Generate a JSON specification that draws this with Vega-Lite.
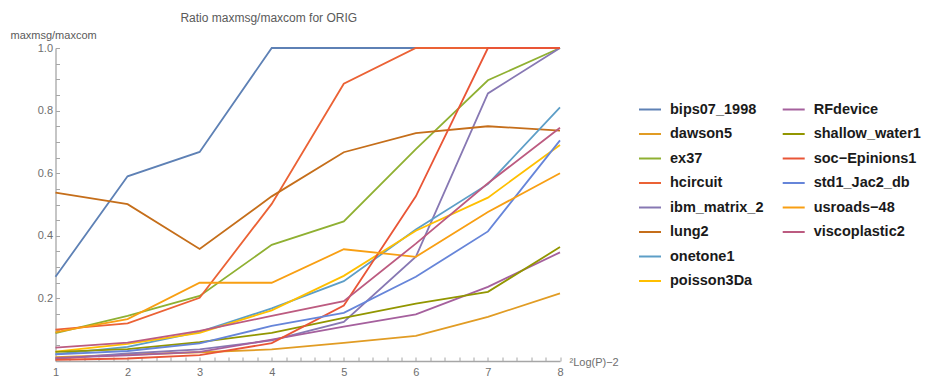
{
  "$schema": "https://vega.github.io/schema/vega-lite/v6.json",
  "autosize": "none",
  "width": 504.5,
  "height": 313,
  "padding": {"left": 55.5, "top": 48, "right": 365, "bottom": 19},
  "background": "white",
  "title": {"text": "Ratio maxmsg/maxcom for ORIG", "fontSize": 12, "font": "Liberation Sans", "fontWeight": "normal", "color": "#5a5a5a", "anchor": "middle", "dx": -39, "offset": 4},
  "config": {"view": {"stroke": null}},
  "datasets": {
    "all": [
      {"s": "bips07_1998", "p": 1, "r": 0.269}, {"s": "bips07_1998", "p": 2, "r": 0.59}, {"s": "bips07_1998", "p": 3, "r": 0.668}, {"s": "bips07_1998", "p": 4, "r": 1.0}, {"s": "bips07_1998", "p": 5, "r": 1.0}, {"s": "bips07_1998", "p": 6, "r": 1.0}, {"s": "bips07_1998", "p": 7, "r": 1.0}, {"s": "bips07_1998", "p": 8, "r": 1.0},
      {"s": "dawson5", "p": 1, "r": 0.012}, {"s": "dawson5", "p": 2, "r": 0.02}, {"s": "dawson5", "p": 3, "r": 0.028}, {"s": "dawson5", "p": 4, "r": 0.037}, {"s": "dawson5", "p": 5, "r": 0.058}, {"s": "dawson5", "p": 6, "r": 0.08}, {"s": "dawson5", "p": 7, "r": 0.141}, {"s": "dawson5", "p": 8, "r": 0.216},
      {"s": "ex37", "p": 1, "r": 0.089}, {"s": "ex37", "p": 2, "r": 0.144}, {"s": "ex37", "p": 3, "r": 0.208}, {"s": "ex37", "p": 4, "r": 0.371}, {"s": "ex37", "p": 5, "r": 0.446}, {"s": "ex37", "p": 6, "r": 0.677}, {"s": "ex37", "p": 7, "r": 0.897}, {"s": "ex37", "p": 8, "r": 1.0},
      {"s": "hcircuit", "p": 1, "r": 0.1}, {"s": "hcircuit", "p": 2, "r": 0.12}, {"s": "hcircuit", "p": 3, "r": 0.202}, {"s": "hcircuit", "p": 4, "r": 0.502}, {"s": "hcircuit", "p": 5, "r": 0.886}, {"s": "hcircuit", "p": 6, "r": 1.0}, {"s": "hcircuit", "p": 7, "r": 1.0}, {"s": "hcircuit", "p": 8, "r": 1.0},
      {"s": "ibm_matrix_2", "p": 1, "r": 0.007}, {"s": "ibm_matrix_2", "p": 2, "r": 0.024}, {"s": "ibm_matrix_2", "p": 3, "r": 0.037}, {"s": "ibm_matrix_2", "p": 4, "r": 0.066}, {"s": "ibm_matrix_2", "p": 5, "r": 0.125}, {"s": "ibm_matrix_2", "p": 6, "r": 0.333}, {"s": "ibm_matrix_2", "p": 7, "r": 0.855}, {"s": "ibm_matrix_2", "p": 8, "r": 1.0},
      {"s": "lung2", "p": 1, "r": 0.538}, {"s": "lung2", "p": 2, "r": 0.501}, {"s": "lung2", "p": 3, "r": 0.358}, {"s": "lung2", "p": 4, "r": 0.526}, {"s": "lung2", "p": 5, "r": 0.667}, {"s": "lung2", "p": 6, "r": 0.728}, {"s": "lung2", "p": 7, "r": 0.75}, {"s": "lung2", "p": 8, "r": 0.736},
      {"s": "onetone1", "p": 1, "r": 0.022}, {"s": "onetone1", "p": 2, "r": 0.045}, {"s": "onetone1", "p": 3, "r": 0.093}, {"s": "onetone1", "p": 4, "r": 0.168}, {"s": "onetone1", "p": 5, "r": 0.255}, {"s": "onetone1", "p": 6, "r": 0.42}, {"s": "onetone1", "p": 7, "r": 0.565}, {"s": "onetone1", "p": 8, "r": 0.81},
      {"s": "poisson3Da", "p": 1, "r": 0.03}, {"s": "poisson3Da", "p": 2, "r": 0.055}, {"s": "poisson3Da", "p": 3, "r": 0.09}, {"s": "poisson3Da", "p": 4, "r": 0.162}, {"s": "poisson3Da", "p": 5, "r": 0.272}, {"s": "poisson3Da", "p": 6, "r": 0.416}, {"s": "poisson3Da", "p": 7, "r": 0.522}, {"s": "poisson3Da", "p": 8, "r": 0.69},
      {"s": "RFdevice", "p": 1, "r": 0.01}, {"s": "RFdevice", "p": 2, "r": 0.018}, {"s": "RFdevice", "p": 3, "r": 0.029}, {"s": "RFdevice", "p": 4, "r": 0.068}, {"s": "RFdevice", "p": 5, "r": 0.11}, {"s": "RFdevice", "p": 6, "r": 0.149}, {"s": "RFdevice", "p": 7, "r": 0.237}, {"s": "RFdevice", "p": 8, "r": 0.347},
      {"s": "shallow_water1", "p": 1, "r": 0.029}, {"s": "shallow_water1", "p": 2, "r": 0.038}, {"s": "shallow_water1", "p": 3, "r": 0.06}, {"s": "shallow_water1", "p": 4, "r": 0.09}, {"s": "shallow_water1", "p": 5, "r": 0.138}, {"s": "shallow_water1", "p": 6, "r": 0.183}, {"s": "shallow_water1", "p": 7, "r": 0.221}, {"s": "shallow_water1", "p": 8, "r": 0.364},
      {"s": "soc−Epinions1", "p": 1, "r": 0.004}, {"s": "soc−Epinions1", "p": 2, "r": 0.008}, {"s": "soc−Epinions1", "p": 3, "r": 0.019}, {"s": "soc−Epinions1", "p": 4, "r": 0.057}, {"s": "soc−Epinions1", "p": 5, "r": 0.177}, {"s": "soc−Epinions1", "p": 6, "r": 0.526}, {"s": "soc−Epinions1", "p": 7, "r": 1.0}, {"s": "soc−Epinions1", "p": 8, "r": 1.0},
      {"s": "std1_Jac2_db", "p": 1, "r": 0.021}, {"s": "std1_Jac2_db", "p": 2, "r": 0.032}, {"s": "std1_Jac2_db", "p": 3, "r": 0.056}, {"s": "std1_Jac2_db", "p": 4, "r": 0.112}, {"s": "std1_Jac2_db", "p": 5, "r": 0.154}, {"s": "std1_Jac2_db", "p": 6, "r": 0.269}, {"s": "std1_Jac2_db", "p": 7, "r": 0.414}, {"s": "std1_Jac2_db", "p": 8, "r": 0.705},
      {"s": "usroads−48", "p": 1, "r": 0.092}, {"s": "usroads−48", "p": 2, "r": 0.134}, {"s": "usroads−48", "p": 3, "r": 0.25}, {"s": "usroads−48", "p": 4, "r": 0.25}, {"s": "usroads−48", "p": 5, "r": 0.357}, {"s": "usroads−48", "p": 6, "r": 0.333}, {"s": "usroads−48", "p": 7, "r": 0.476}, {"s": "usroads−48", "p": 8, "r": 0.6},
      {"s": "viscoplastic2", "p": 1, "r": 0.043}, {"s": "viscoplastic2", "p": 2, "r": 0.059}, {"s": "viscoplastic2", "p": 3, "r": 0.096}, {"s": "viscoplastic2", "p": 4, "r": 0.144}, {"s": "viscoplastic2", "p": 5, "r": 0.191}, {"s": "viscoplastic2", "p": 6, "r": 0.375}, {"s": "viscoplastic2", "p": 7, "r": 0.568}, {"s": "viscoplastic2", "p": 8, "r": 0.745}
    ]
  },
  "data": {"name": "all"},
  "encoding": {
    "x": {"field": "p", "type": "quantitative", "scale": {"domain": [1, 8], "nice": false, "zero": false},
      "axis": {"values": [1,1.2,1.4,1.6,1.8,2,2.2,2.4,2.6,2.8,3,3.2,3.4,3.6,3.8,4,4.2,4.4,4.6,4.8,5,5.2,5.4,5.6,5.8,6,6.2,6.4,6.6,6.8,7,7.2,7.4,7.6,7.8,8],
        "labelExpr": "abs(datum.value - round(datum.value)) < 0.01 ? format(datum.value, 'd') : ''",
        "labelOverlap": false, "labelBound": false,
        "grid": false, "domainColor": "#a6a6a6", "domainWidth": 1.3, "ticks": true, "tickColor": "#a6a6a6", "tickWidth": 1, "tickSize": -4, "labelPadding": 9,
        "labelFont": "Liberation Sans", "labelFontSize": 11, "labelColor": "#6e6e6e", "labelFlush": false,
        "title": "²Log(P)−2", "titleFont": "Liberation Sans", "titleFontSize": 11, "titleFontWeight": "normal", "titleColor": "#6e6e6e",
        "titleX": 513.5, "titleY": 1, "titleAlign": "left", "titleBaseline": "middle",
        "encode": {"ticks": {"enter": {"y2": {"signal": "abs(datum.value - round(datum.value)) < 0.01 ? -5 : -3"}}, "update": {"y2": {"signal": "abs(datum.value - round(datum.value)) < 0.01 ? -5 : -3"}}}}}},
    "y": {"field": "r", "type": "quantitative", "scale": {"domain": [0, 1], "nice": false},
      "axis": {"values": [0.05,0.1,0.15,0.2,0.25,0.3,0.35,0.4,0.45,0.5,0.55,0.6,0.65,0.7,0.75,0.8,0.85,0.9,0.95,1.0],
        "labelExpr": "round(datum.value*100) % 20 === 0 ? format(datum.value, '.1f') : ''",
        "labelOverlap": false, "labelBound": false,
        "grid": false, "domainColor": "#a6a6a6", "domainWidth": 1.3, "ticks": true, "tickColor": "#a6a6a6", "tickWidth": 1, "tickSize": -4, "labelPadding": 7,
        "labelFont": "Liberation Sans", "labelFontSize": 11, "labelColor": "#6e6e6e", "labelFlush": false,
        "title": "maxmsg/maxcom", "titleFont": "Liberation Sans", "titleFontSize": 11, "titleFontWeight": "normal", "titleColor": "#5a5a5a",
        "titleAngle": 0, "titleX": -45.5, "titleY": -13, "titleAlign": "left", "titleBaseline": "middle",
        "encode": {"ticks": {"enter": {"x2": {"signal": "round(datum.value*100) % 20 === 0 ? 5 : 3"}}, "update": {"x2": {"signal": "round(datum.value*100) % 20 === 0 ? 5 : 3"}}}}}}
  },
  "layer": [
    {
      "transform": [{"filter": {"field": "s", "oneOf": ["bips07_1998", "dawson5", "ex37", "hcircuit", "ibm_matrix_2", "lung2", "onetone1", "poisson3Da"]}}],
      "mark": {"type": "line", "strokeWidth": 1.8, "clip": false},
      "encoding": {
        "color": {"field": "s", "type": "nominal",
          "scale": {"domain": ["bips07_1998", "dawson5", "ex37", "hcircuit", "ibm_matrix_2", "lung2", "onetone1", "poisson3Da"],
            "range": ["#5E81B5", "#E19C24", "#8FB032", "#EB6235", "#8778B3", "#C56E1A", "#5D9EC7", "#FFBF00"]},
          "legend": {"title": null, "orient": "none", "legendX": 582.5, "legendY": 49.5, "padding": 0, "symbolType": "stroke", "symbolSize": 484, "symbolStrokeWidth": 2, "rowPadding": 5.5, "labelOffset": 8, "labelFont": "Liberation Sans", "labelFontSize": 14.5, "labelFontWeight": "bold", "labelColor": "#1a1a1a", "labelLimit": 300}}
      }
    },
    {
      "transform": [{"filter": {"field": "s", "oneOf": ["RFdevice", "shallow_water1", "soc−Epinions1", "std1_Jac2_db", "usroads−48", "viscoplastic2"]}}],
      "mark": {"type": "line", "strokeWidth": 1.8, "clip": false},
      "encoding": {
        "color": {"field": "s", "type": "nominal",
          "scale": {"domain": ["RFdevice", "shallow_water1", "soc−Epinions1", "std1_Jac2_db", "usroads−48", "viscoplastic2"],
            "range": ["#A5609D", "#929600", "#E95536", "#6685D9", "#F89F13", "#BC5B80"]},
          "legend": {"title": null, "orient": "none", "legendX": 726.2, "legendY": 49.5, "padding": 0, "symbolType": "stroke", "symbolSize": 484, "symbolStrokeWidth": 2, "rowPadding": 5.5, "labelOffset": 8, "labelFont": "Liberation Sans", "labelFontSize": 14.5, "labelFontWeight": "bold", "labelColor": "#1a1a1a", "labelLimit": 300}}
      }
    }
  ],
  "resolve": {"scale": {"color": "independent"}}
}
